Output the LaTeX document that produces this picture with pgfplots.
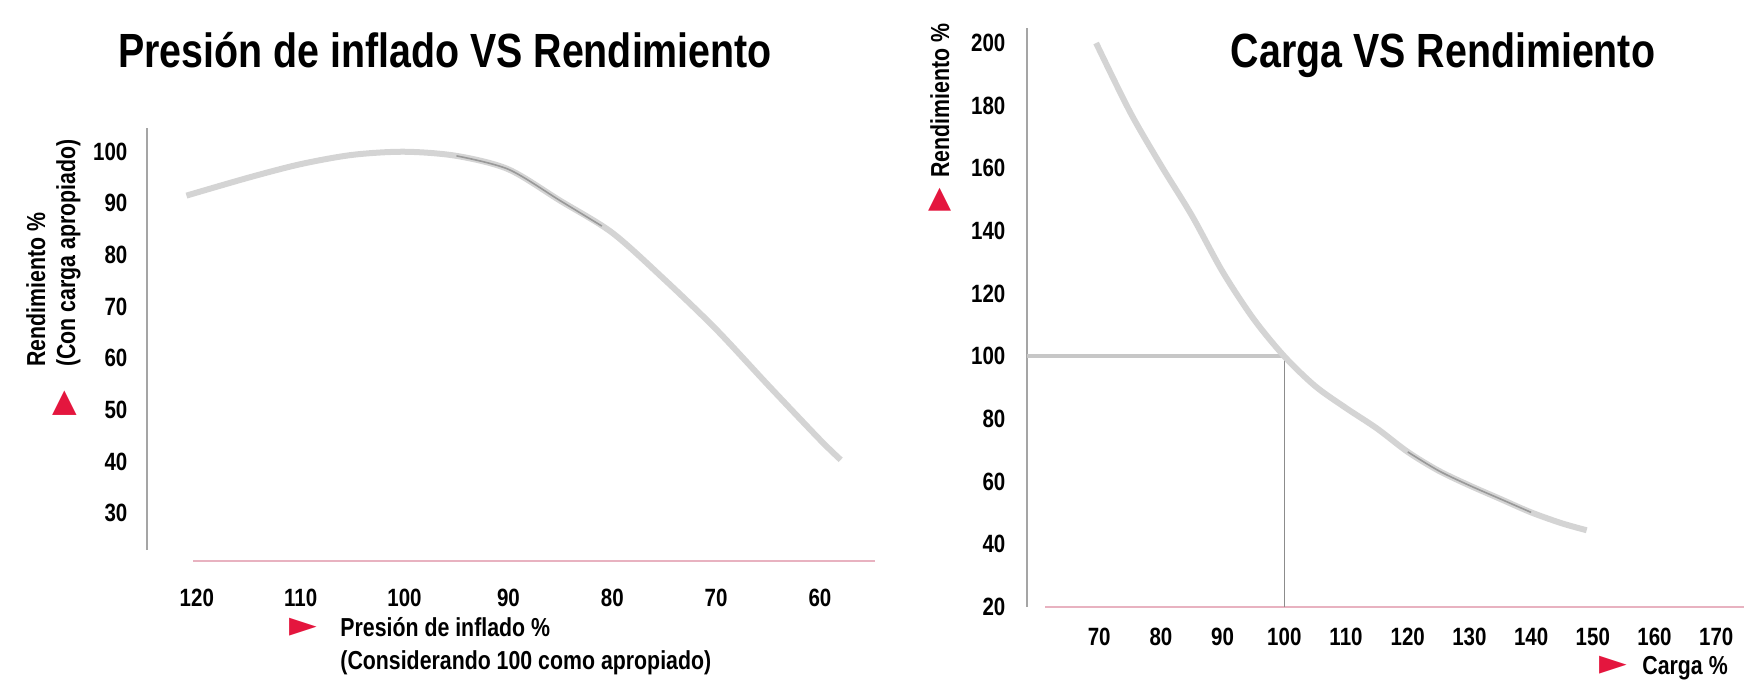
\documentclass[border=0pt]{standalone}
\usepackage{fontspec}
\setmainfont{Liberation Sans}[FakeStretch=0.82]
\newfontfamily\symfont{DejaVu Sans}
\usepackage{pgfplots}
\pgfplotsset{compat=1.18}

\definecolor{tri}{RGB}{228,22,62}
\definecolor{xline}{RGB}{232,178,192}
\definecolor{yline}{RGB}{165,165,165}
\definecolor{curve}{RGB}{212,212,212}
\newcommand\lab{\fontsize{13}{15}\selectfont\bfseries}
\newcommand\ttl{\fontsize{24}{28}\selectfont\bfseries}

\pgfplotsset{
  chart/.style={
    scale only axis, axis lines=left, axis line style={-},
    x axis line style={xline, line width=1pt},
    y axis line style={yline, line width=0.6pt},
    tick style={draw=none},
    tick label style={font=\fontsize{12.5}{14}\selectfont\bfseries, inner sep=0pt},
    /pgf/number format/assume math mode=true,
    clip=false,
  }
}

\begin{document}
\begin{tikzpicture}[x=1pt,y=1pt]
\path[use as bounding box] (0,0) rectangle (872,340.5);

% presion de inflado
\begin{axis}[chart, at={(73.5pt,60pt)}, anchor=south west,
  width=364pt, height=216.5pt,
  xmin=54.7, xmax=124.8, x dir=reverse, ymin=20.7, ymax=104.6,
  xtick={60,70,...,120}, ytick={30,40,...,100},
  x axis line style={shorten >=23pt}, y axis line style={shorten <=5.5pt},
  yticklabel style={xshift=-7.5pt}, xticklabel style={yshift=-11.5pt}]
\addplot[curve, line width=3pt, smooth] coordinates {
  (121,91.5) (115,95) (110,97.6) (105,99.4) (100,100) (95,99.2) (90,96.6)
  (85,90.5) (80,84.3) (75,75.3) (70,65.6) (65,54.8) (60,44.2) (58,40.3)};
\addplot[black!40, line width=0.8pt, smooth] coordinates {
  (95,99.2) (90,96.6) (85,90.5) (81,85.6)};
\end{axis}

% carga
\begin{axis}[chart, at={(513.5pt,37pt)}, anchor=south west,
  width=358.5pt, height=289.5pt,
  xmin=58.3, xmax=174.5, ymin=20, ymax=204.8,
  xtick={70,80,...,170}, ytick={20,40,...,200},
  x axis line style={shorten <=9pt},
  yticklabel style={xshift=-8.5pt}, xticklabel style={yshift=-8pt}]
\addplot[black!22, line width=2pt] coordinates {(58.3,100) (100,100)};
\addplot[black!45, line width=0.6pt] coordinates {(100,100) (100,20)};
\addplot[curve, line width=3pt, smooth] coordinates {
  (69.5,200) (75,178) (80,161) (85,145) (90,127) (95,112) (100,100)
  (105,90.5) (110,83.5) (115,77) (120,69.5) (125,63.5) (130,58.8)
  (135,54.5) (140,50.2) (145,46.7) (149,44.5)};
\addplot[black!40, line width=0.8pt, smooth] coordinates {
  (120,69.5) (125,63.5) (130,58.8) (135,54.5) (140,50.2)};
\end{axis}

% titles and labels
\node[anchor=base, inner sep=0, font=\ttl] at (222.5,306.5) {Presión de inflado VS Rendimiento};
\node[anchor=base, inner sep=0, font=\ttl] at (721.5,306.5) {Carga VS Rendimiento};

\node[rotate=90, anchor=base west, inner sep=0, font=\lab] at (22.5,157) {Rendimiento \%};
\node[rotate=90, anchor=base west, inner sep=0, font=\lab] at (37.5,157) {(Con carga apropiado)};
\node[text=tri, inner sep=0, font=\symfont\fontsize{16}{16}\selectfont] at (32.5,139) {▲};

\node[text=tri, inner sep=0, font=\symfont\fontsize{18}{18}\selectfont] at (151.5,27) {►};
\node[anchor=base west, inner sep=0, font=\lab] at (170,22.5) {Presión de inflado \%};
\node[anchor=base west, inner sep=0, font=\lab] at (170,6) {(Considerando 100 como apropiado)};

\node[rotate=90, anchor=base west, inner sep=0, font=\lab] at (474.5,251.5) {Rendimiento \%};
\node[text=tri, inner sep=0, font=\symfont\fontsize{15}{15}\selectfont] at (470,240.5) {▲};

\node[text=tri, inner sep=0, font=\symfont\fontsize{18}{18}\selectfont] at (806.5,8) {►};
\node[anchor=base west, inner sep=0, font=\lab] at (821,3.5) {Carga \%};
\end{tikzpicture}
\end{document}
